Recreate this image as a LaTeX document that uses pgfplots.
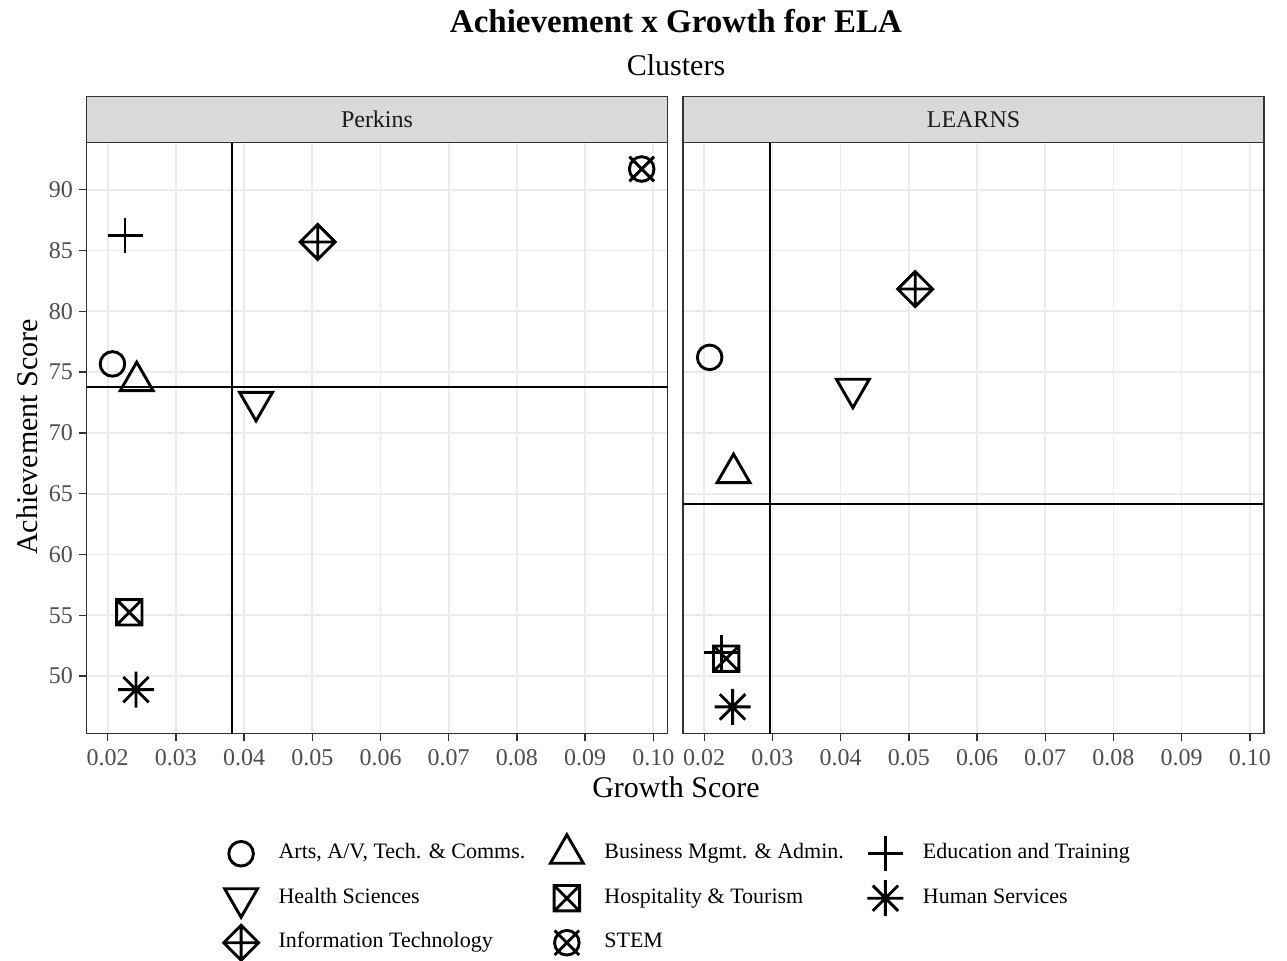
\documentclass[border=0pt]{standalone}
\usepackage{fontspec}
\setmainfont{Liberation Serif}
\usepackage{pgfplots}
\pgfplotsset{compat=1.18}
\definecolor{gridc}{HTML}{EBEBEB}
\definecolor{grey20}{HTML}{333333}
\definecolor{grey30}{HTML}{4D4D4D}
\definecolor{grey85}{HTML}{D9D9D9}
\definecolor{grey10}{HTML}{1A1A1A}

\pgfdeclareplotmark{ggcircle}{\pgfpathcircle{\pgfpointorigin}{12.3bp}\pgfusepathqstroke}
\pgfdeclareplotmark{ggtriup}{%
  \pgfpathmoveto{\pgfpoint{0bp}{19bp}}\pgfpathlineto{\pgfpoint{16.45bp}{-9.5bp}}%
  \pgfpathlineto{\pgfpoint{-16.45bp}{-9.5bp}}\pgfpathclose\pgfusepathqstroke}
\pgfdeclareplotmark{ggtridown}{%
  \pgfpathmoveto{\pgfpoint{0bp}{-19bp}}\pgfpathlineto{\pgfpoint{16.45bp}{9.5bp}}%
  \pgfpathlineto{\pgfpoint{-16.45bp}{9.5bp}}\pgfpathclose\pgfusepathqstroke}
\pgfdeclareplotmark{ggplus}{%
  \pgfpathmoveto{\pgfpoint{-17.5bp}{0bp}}\pgfpathlineto{\pgfpoint{17.5bp}{0bp}}%
  \pgfpathmoveto{\pgfpoint{0bp}{-17.5bp}}\pgfpathlineto{\pgfpoint{0bp}{17.5bp}}\pgfusepathqstroke}
\pgfdeclareplotmark{ggsqx}{%
  \pgfpathrectangle{\pgfpoint{-12.7bp}{-12.7bp}}{\pgfpoint{25.4bp}{25.4bp}}%
  \pgfpathmoveto{\pgfpoint{-12.7bp}{-12.7bp}}\pgfpathlineto{\pgfpoint{12.7bp}{12.7bp}}%
  \pgfpathmoveto{\pgfpoint{-12.7bp}{12.7bp}}\pgfpathlineto{\pgfpoint{12.7bp}{-12.7bp}}\pgfusepathqstroke}
\pgfdeclareplotmark{ggast}{%
  \pgfpathmoveto{\pgfpoint{-18bp}{0bp}}\pgfpathlineto{\pgfpoint{18bp}{0bp}}%
  \pgfpathmoveto{\pgfpoint{0bp}{-18bp}}\pgfpathlineto{\pgfpoint{0bp}{18bp}}%
  \pgfpathmoveto{\pgfpoint{-12.7bp}{-12.7bp}}\pgfpathlineto{\pgfpoint{12.7bp}{12.7bp}}%
  \pgfpathmoveto{\pgfpoint{-12.7bp}{12.7bp}}\pgfpathlineto{\pgfpoint{12.7bp}{-12.7bp}}\pgfusepathqstroke}
\pgfdeclareplotmark{ggdiamplus}{%
  \pgfpathmoveto{\pgfpoint{-17.5bp}{0bp}}\pgfpathlineto{\pgfpoint{0bp}{17.5bp}}%
  \pgfpathlineto{\pgfpoint{17.5bp}{0bp}}\pgfpathlineto{\pgfpoint{0bp}{-17.5bp}}\pgfpathclose
  \pgfpathmoveto{\pgfpoint{-17.5bp}{0bp}}\pgfpathlineto{\pgfpoint{17.5bp}{0bp}}%
  \pgfpathmoveto{\pgfpoint{0bp}{-17.5bp}}\pgfpathlineto{\pgfpoint{0bp}{17.5bp}}\pgfusepathqstroke}
\pgfdeclareplotmark{ggcircx}{%
  \pgfpathcircle{\pgfpointorigin}{12.3bp}%
  \pgfpathmoveto{\pgfpoint{-12.3bp}{-12.3bp}}\pgfpathlineto{\pgfpoint{12.3bp}{12.3bp}}%
  \pgfpathmoveto{\pgfpoint{-12.3bp}{12.3bp}}\pgfpathlineto{\pgfpoint{12.3bp}{-12.3bp}}\pgfusepathqstroke}

\pgfplotsset{
  ggax/.style={
    scale only axis, width=581bp, height=591bp,
    xmin=0.01689, xmax=0.10208, ymin=45.26, ymax=93.865,
    xtick={0.02,0.03,0.04,0.05,0.06,0.07,0.08,0.09,0.1},
    xticklabels={0.02,0.03,0.04,0.05,0.06,0.07,0.08,0.09,0.10},
    ytick={50,55,60,65,70,75,80,85,90},
    grid=major, major grid style={color=gridc, line width=1.7bp},
    axis line style={color=grey20, line width=1.4bp},
    tick align=outside, major tick length=7bp, tick pos=left,
    tick style={color=grey20, line width=1.4bp},
    ticklabel style={font=\fontsize{24bp}{28bp}\selectfont, text=grey30},
    xticklabel style={yshift=-5bp},
    yticklabel style={xshift=-3bp},
    clip=false,
  },
  ggpt/.style={only marks, black, line width=2.9bp, mark options={solid}},
  refl/.style={black, line width=2bp, forget plot},
}

\begin{document}
\begin{tikzpicture}
\path[use as bounding box] (0,0) rectangle (1287bp,961bp);

\begin{axis}[ggax, name=perkins, at={(86.5bp,227.3bp)}, anchor=south west,
  yticklabels={50,55,60,65,70,75,80,85,90}]
\addplot[refl] coordinates {(0.03823,45.26) (0.03823,93.865)};
\addplot[refl] coordinates {(0.01689,73.78) (0.10208,73.78)};
\addplot[ggpt, mark=ggcircle]   coordinates {(0.0207,75.67)};
\addplot[ggpt, mark=ggtriup]    coordinates {(0.02425,74.25)};
\addplot[ggpt, mark=ggplus]     coordinates {(0.02254,86.22)};
\addplot[ggpt, mark=ggtridown]  coordinates {(0.04175,72.55)};
\addplot[ggpt, mark=ggsqx]      coordinates {(0.02317,55.24)};
\addplot[ggpt, mark=ggast]      coordinates {(0.02415,48.88)};
\addplot[ggpt, mark=ggdiamplus] coordinates {(0.05079,85.70)};
\addplot[ggpt, mark=ggcircx]    coordinates {(0.0983,91.70)};
\end{axis}

\begin{axis}[ggax, name=learns, at={(683bp,227.3bp)}, anchor=south west,
  yticklabels={}, ytick style={draw=none},
  legend style={at={(axis description cs:-0.0112,-0.2784)}, anchor=center,
    draw=none, fill=none, legend columns=3,
    font=\fontsize{22bp}{26bp}\selectfont,
    nodes={inner sep=2bp, text height=15bp, text depth=5bp},
    row sep=20.5bp,
    /tikz/every even column/.append style={column sep=19.5bp}},
  legend cell align=left,
  legend image code/.code={\path[draw=none,fill=none] (-20bp,-8bp) rectangle (35.5bp,8bp);
    \draw[#1,overlay] plot coordinates {(0bp,0bp)};},
]
\addplot[refl] coordinates {(0.02968,45.26) (0.02968,93.865)};
\addplot[refl] coordinates {(0.01689,64.15) (0.10208,64.15)};
\addplot[ggpt, mark=ggcircle]   coordinates {(0.0208,76.21)};
\addplot[ggpt, mark=ggtriup]    coordinates {(0.0243,66.69)};
\addplot[ggpt, mark=ggplus]     coordinates {(0.02249,51.95)};
\addplot[ggpt, mark=ggtridown]  coordinates {(0.0418,73.63)};
\addplot[ggpt, mark=ggsqx]      coordinates {(0.02323,51.43)};
\addplot[ggpt, mark=ggast]      coordinates {(0.02416,47.46)};
\addplot[ggpt, mark=ggdiamplus] coordinates {(0.05094,81.83)};
\addlegendimage{ggpt, mark=ggcircx}
\legend{Arts{,} A/V{,} Tech. \& Comms., Business Mgmt. \& Admin., Education and Training,
  Health Sciences, Hospitality \& Tourism, Human Services,
  Information Technology, STEM}
\end{axis}

% facet strips
\draw[fill=grey85, draw=grey20, line width=1.4bp] (perkins.north west) rectangle ([yshift=46bp]perkins.north east);
\node[font=\fontsize{24bp}{28bp}\selectfont, text=grey10] at ([yshift=23bp]perkins.north) {Perkins};
\draw[fill=grey85, draw=grey20, line width=1.4bp] (learns.north west) rectangle ([yshift=46bp]learns.north east);
\node[font=\fontsize{24bp}{28bp}\selectfont, text=grey10] at ([yshift=23bp]learns.north) {LEARNS};

% titles
\node[anchor=base, font=\bfseries\fontsize{33bp}{40bp}\selectfont] at (676bp,928bp) {Achievement x Growth for ELA};
\node[anchor=base, font=\fontsize{30bp}{36bp}\selectfont] at (676bp,885bp) {Clusters};
\node[anchor=base, font=\fontsize{30bp}{36bp}\selectfont] at (676bp,163bp) {Growth Score};
\node[anchor=base, rotate=90, font=\fontsize{30bp}{36bp}\selectfont] at (37bp,524bp) {Achievement Score};
\end{tikzpicture}
\end{document}
